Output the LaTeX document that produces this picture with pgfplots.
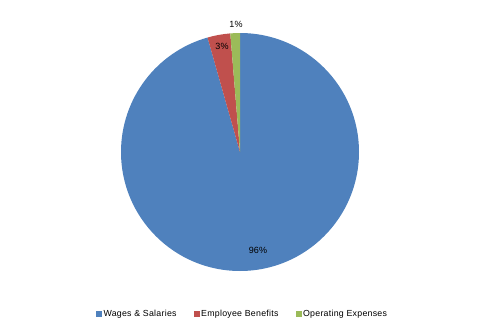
\documentclass[border=0pt]{standalone}
\usepackage{pgfplots}
\pgfplotsset{compat=1.18}
\usepackage{pgfplotstable}
\usepackage{fontspec}
\setmainfont{Liberation Sans}
\newfontfamily\legfont[LetterSpace=3]{Liberation Sans}
\definecolor{cA}{HTML}{4F81BD}
\definecolor{cB}{HTML}{C0504D}
\definecolor{cC}{HTML}{9BBB59}
\pgfplotstableread{
name value
Wages 95.6
Benefits 3.1
Operating 1.3
}\piedata
\begin{document}
\begin{tikzpicture}
\begin{axis}[
  scale only axis, width=480pt, height=333pt,
  xmin=0, xmax=480, ymin=0, ymax=333,
  hide axis, clip=false,
  legend style={at={(axis cs:242.5,19)}, anchor=center, draw=none, fill=none,
    legend columns=3, font=\fontsize{8.8}{9}\legfont,
    /tikz/every even column/.append style={column sep=15pt},
    /tikz/every odd column/.append style={column sep=0pt}},
  legend image code/.code={\fill[#1] (0pt,-2.6pt) rectangle (5.2pt,2.6pt);},
]
\pgfplotstablegetelem{0}{value}\of\piedata \let\va\pgfplotsretval
\pgfplotstablegetelem{1}{value}\of\piedata \let\vb\pgfplotsretval
\pgfplotstablegetelem{2}{value}\of\piedata \let\vc\pgfplotsretval
\pgfmathsetmacro{\aA}{90-3.6*\va}
\pgfmathsetmacro{\aB}{\aA-3.6*\vb}
\pgfmathsetmacro{\aC}{\aB-3.6*\vc}
\fill[cA] (axis cs:240,181) -- ([shift={(90:119pt)}]axis cs:240,181) arc[start angle=90, end angle=\aA, radius=119pt] -- cycle;
\fill[cB] (axis cs:240,181) -- ([shift={(\aA:119pt)}]axis cs:240,181) arc[start angle=\aA, end angle=\aB, radius=119pt] -- cycle;
\fill[cC] (axis cs:240,181) -- ([shift={(\aB:119pt)}]axis cs:240,181) arc[start angle=\aB, end angle=\aC, radius=119pt] -- cycle;
\addlegendimage{cA}\addlegendentry{Wages \& Salaries}
\addlegendimage{cB}\addlegendentry{Employee Benefits}
\addlegendimage{cC}\addlegendentry{Operating Expenses}
\node[font=\fontsize{9}{10}\selectfont] at (axis cs:258,83) {96\%};
\node[font=\fontsize{9}{10}\selectfont] at (axis cs:222,287) {3\%};
\node[font=\fontsize{9}{10}\selectfont] at (axis cs:236,309) {1\%};
\path (axis cs:0,0) rectangle (axis cs:480,333);
\end{axis}
\end{tikzpicture}
\end{document}
